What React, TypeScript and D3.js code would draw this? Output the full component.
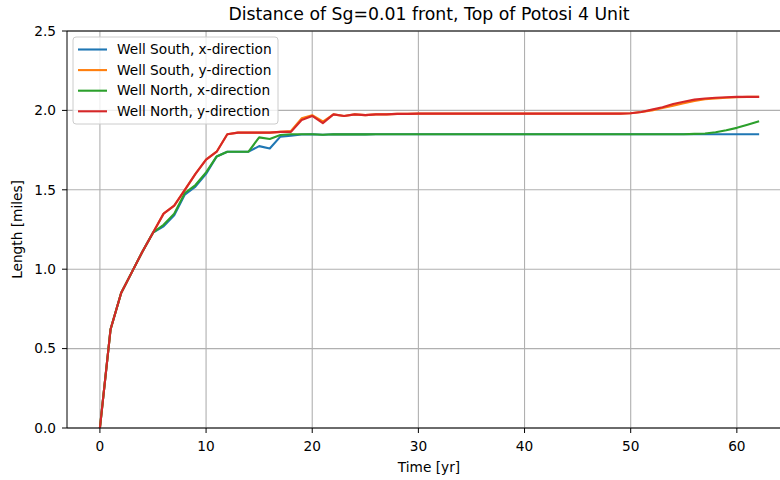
import * as d3 from "d3";

const MARGIN = { top: 31, right: -11, bottom: 52, left: 67 };
const WIDTH = 780;
const HEIGHT = 480;

const years = [
  0, 1, 2, 3, 4, 5, 6, 7, 8, 9, 10, 11, 12, 13, 14, 15, 16, 17, 18, 19, 20,
  21, 22, 23, 24, 25, 26, 27, 28, 29, 30, 31, 32, 33, 34, 35, 36, 37, 38, 39,
  40, 41, 42, 43, 44, 45, 46, 47, 48, 49, 50, 51, 52, 53, 54, 55, 56, 57, 58,
  59, 60, 61, 62,
];

const southX = [
  0, 0.62, 0.85, 0.98, 1.11, 1.23, 1.27, 1.34, 1.47, 1.52, 1.6, 1.71, 1.74,
  1.74, 1.74, 1.775, 1.76, 1.835, 1.84, 1.848, 1.85, 1.847, 1.85, 1.849, 1.85,
  1.849, 1.85, 1.85, 1.85, 1.85, 1.85, 1.85, 1.85, 1.85, 1.85, 1.85, 1.85,
  1.85, 1.85, 1.85, 1.85, 1.85, 1.85, 1.85, 1.85, 1.85, 1.85, 1.85, 1.85,
  1.85, 1.85, 1.85, 1.85, 1.85, 1.85, 1.85, 1.85, 1.85, 1.85, 1.85, 1.85,
  1.85, 1.85,
];

const southY = [
  0, 0.62, 0.85, 0.98, 1.11, 1.23, 1.35, 1.4, 1.5, 1.6, 1.69, 1.74, 1.85,
  1.86, 1.86, 1.86, 1.86, 1.865, 1.87, 1.95, 1.97, 1.93, 1.975, 1.965, 1.975,
  1.97, 1.975, 1.975, 1.978, 1.978, 1.98, 1.98, 1.98, 1.98, 1.98, 1.98, 1.98,
  1.98, 1.98, 1.98, 1.98, 1.98, 1.98, 1.98, 1.98, 1.98, 1.98, 1.98, 1.98,
  1.98, 1.982, 1.99, 2.0, 2.015, 2.03, 2.045, 2.06, 2.07, 2.075, 2.08, 2.083,
  2.085, 2.085,
];

const northX = [
  0, 0.62, 0.85, 0.98, 1.11, 1.23, 1.28, 1.35, 1.48, 1.53, 1.61, 1.71, 1.74,
  1.74, 1.74, 1.83, 1.82, 1.845, 1.85, 1.85, 1.85, 1.847, 1.85, 1.849, 1.85,
  1.849, 1.85, 1.85, 1.85, 1.85, 1.85, 1.85, 1.85, 1.85, 1.85, 1.85, 1.85,
  1.85, 1.85, 1.85, 1.85, 1.85, 1.85, 1.85, 1.85, 1.85, 1.85, 1.85, 1.85,
  1.85, 1.85, 1.85, 1.85, 1.85, 1.85, 1.85, 1.852, 1.855, 1.862, 1.875, 1.89,
  1.91, 1.93,
];

const northY = [
  0, 0.62, 0.85, 0.98, 1.11, 1.23, 1.35, 1.4, 1.5, 1.6, 1.69, 1.74, 1.85,
  1.86, 1.86, 1.86, 1.86, 1.865, 1.865, 1.94, 1.965, 1.92, 1.975, 1.965, 1.975,
  1.97, 1.975, 1.975, 1.978, 1.978, 1.98, 1.98, 1.98, 1.98, 1.98, 1.98, 1.98,
  1.98, 1.98, 1.98, 1.98, 1.98, 1.98, 1.98, 1.98, 1.98, 1.98, 1.98, 1.98,
  1.98, 1.982, 1.99, 2.005, 2.02, 2.04, 2.055, 2.068, 2.075, 2.08, 2.083,
  2.085, 2.085, 2.085,
];

const seriesNames = [
  "Well South, x-direction",
  "Well South, y-direction",
  "Well North, x-direction",
  "Well North, y-direction",
];
const seriesValues = [southX, southY, northX, northY];
const colors = ["#1f77b4", "#ff7f0e", "#2ca02c", "#d62728"];

const xTicks = [0, 10, 20, 30, 40, 50, 60];
const yTicks = [0, 0.5, 1, 1.5, 2, 2.5];

const FONT = "DejaVu Sans, sans-serif";
const FS = 13.7;

export default function App() {
  const boundsWidth = WIDTH - MARGIN.left - MARGIN.right;
  const boundsHeight = HEIGHT - MARGIN.top - MARGIN.bottom;
  const centerX = boundsWidth / 2;

  const xScale = d3.scaleLinear().domain([-3.1, 65.1]).range([0, boundsWidth]);
  const yScale = d3.scaleLinear().domain([0, 2.5]).range([boundsHeight, 0]);

  const line = d3
    .line<number>()
    .x((_, i) => xScale(years[i]))
    .y((d) => yScale(d));

  return (
    <svg
      width={WIDTH}
      height={HEIGHT}
      style={{ position: "absolute", left: 0, top: 0, background: "#fff" }}
    >
      <defs>
        <clipPath id="plot-clip">
          <rect x={0} y={0} width={boundsWidth} height={boundsHeight} />
        </clipPath>
      </defs>
      <g transform={`translate(${MARGIN.left},${MARGIN.top})`}>
        <text
          x={centerX}
          y={-11}
          textAnchor="middle"
          fontFamily={FONT}
          fontSize={17.3}
          fill="#000"
        >
          Distance of Sg=0.01 front, Top of Potosi 4 Unit
        </text>

        {/* grid */}
        {xTicks.map((t) => (
          <line
            key={"gx" + t}
            x1={xScale(t)}
            x2={xScale(t)}
            y1={0}
            y2={boundsHeight}
            stroke="#b0b0b0"
            strokeWidth={1.1}
          />
        ))}
        {yTicks.map((t) => (
          <line
            key={"gy" + t}
            x1={0}
            x2={boundsWidth}
            y1={yScale(t)}
            y2={yScale(t)}
            stroke="#b0b0b0"
            strokeWidth={1.1}
          />
        ))}

        {/* lines */}
        <g clipPath="url(#plot-clip)">
          {seriesValues.map((vals, i) => (
            <path
              key={i}
              d={line(vals) ?? ""}
              fill="none"
              stroke={colors[i]}
              strokeWidth={2.1}
              strokeLinejoin="round"
              strokeLinecap="square"
            />
          ))}
        </g>

        {/* spines */}
        <line x1={0} x2={0} y1={0} y2={boundsHeight} stroke="#000" strokeWidth={1} />
        <line x1={0} x2={boundsWidth} y1={0} y2={0} stroke="#000" strokeWidth={1} />
        <line
          x1={0}
          x2={boundsWidth}
          y1={boundsHeight}
          y2={boundsHeight}
          stroke="#000"
          strokeWidth={1}
        />

        {/* x ticks */}
        {xTicks.map((t) => (
          <g key={"xt" + t} transform={`translate(${xScale(t)},${boundsHeight})`}>
            <line y1={0} y2={5} stroke="#000" strokeWidth={1} />
            <text
              y={18}
              dy="0.35em"
              textAnchor="middle"
              fontFamily={FONT}
              fontSize={FS}
              fill="#000"
            >
              {t}
            </text>
          </g>
        ))}
        {/* y ticks */}
        {yTicks.map((t) => (
          <g key={"yt" + t} transform={`translate(0,${yScale(t)})`}>
            <line x1={0} x2={-5} stroke="#000" strokeWidth={1} />
            <text
              x={-11}
              dy="0.35em"
              textAnchor="end"
              fontFamily={FONT}
              fontSize={FS}
              fill="#000"
            >
              {d3.format(".1f")(t)}
            </text>
          </g>
        ))}

        {/* axis labels */}
        <text
          x={centerX}
          y={boundsHeight + 39}
          dy="0.35em"
          textAnchor="middle"
          fontFamily={FONT}
          fontSize={FS}
          fill="#000"
        >
          Time [yr]
        </text>
        <text
          transform={`translate(${-MARGIN.left + 17.5},${boundsHeight / 2}) rotate(-90)`}
          dy="0.35em"
          textAnchor="middle"
          fontFamily={FONT}
          fontSize={FS}
          fill="#000"
        >
          Length [miles]
        </text>

        {/* legend */}
        <g transform="translate(6,6)">
          <rect
            x={0}
            y={0}
            width={205}
            height={87}
            rx={3}
            fill="#fff"
            fillOpacity={0.8}
            stroke="#cccccc"
            strokeWidth={1}
          />
          {seriesNames.map((name, i) => (
            <g key={name} transform={`translate(0,${12.5 + i * 20.6})`}>
              <line x1={5} x2={34} y1={0} y2={0} stroke={colors[i]} strokeWidth={2.1} />
              <text
                x={44}
                dy="0.35em"
                fontFamily={FONT}
                fontSize={FS}
                fill="#000"
              >
                {name}
              </text>
            </g>
          ))}
        </g>
      </g>
    </svg>
  );
}
